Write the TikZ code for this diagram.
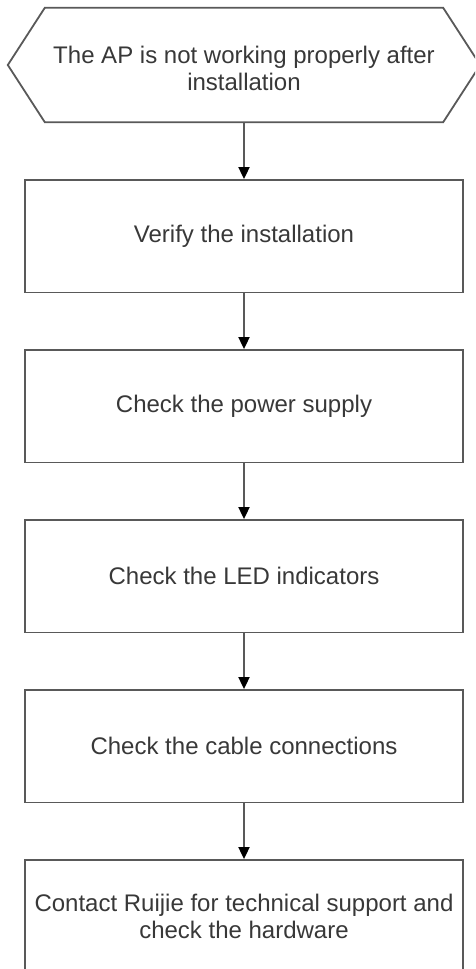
\documentclass[tikz,border=0pt]{standalone}
\usepackage{fontspec}
\setmainfont{Liberation Sans}
\usetikzlibrary{positioning,arrows.meta}
\begin{document}
\begin{tikzpicture}[x=1pt,y=1pt,>={Triangle[width=11pt,length=12pt,color=black]},
		font=\fontsize{24}{27}\selectfont,node distance=55.7pt,
		every node/.style={text=black!78},
		stepbox/.style={draw=black!65,line width=1.8pt,minimum width=438pt,minimum height=112.5pt,align=center,inner sep=0pt},
		link/.style={->,draw=black!65,line width=1.8pt}]
	\useasboundingbox (0,0) rectangle (475,-969);
	\clip (0,0) rectangle (475,-969);
	\node[minimum width=398pt,minimum height=114pt,align=center,inner sep=0pt] (start) at (244,-68) {The AP is not working properly after\\installation};
	\draw[draw=black!65,line width=1.8pt] ([yshift=3pt]start.north west) -- ([yshift=3pt]start.north east) -- ([shift={(37pt,3pt)}]start.east) -- ([yshift=3pt]start.south east) -- ([yshift=3pt]start.south west) -- ([shift={(-37pt,3pt)}]start.west) -- cycle; % hexagon
	\node[stepbox,below=53.9pt of start] (verify) {Verify the installation};
	\node[stepbox,below=of verify] (power) {Check the power supply};
	\node[stepbox,below=of power] (led) {Check the LED indicators};
	\node[stepbox,below=of led] (cable) {Check the cable connections};
	\node[stepbox,below=of cable] (contact) {Contact Ruijie for technical support and\\check the hardware};
	\draw[link] ([yshift=3pt]start.south) -- (verify);
	\foreach \a/\b in {verify/power,power/led,led/cable,cable/contact}{
		\draw[link] (\a) -- (\b);}
\end{tikzpicture}
\end{document}
